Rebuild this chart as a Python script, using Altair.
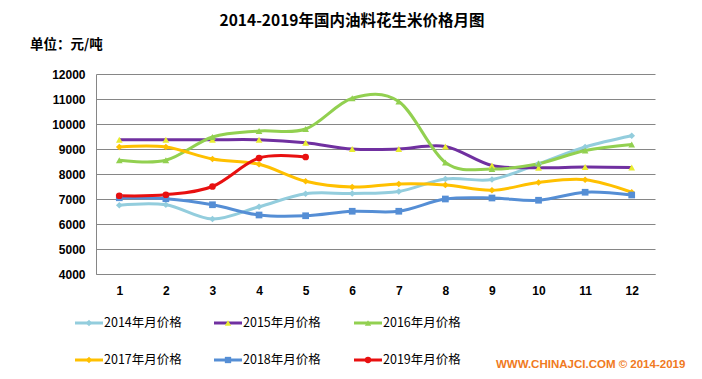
import altair as alt
import pandas as pd

months = list(range(1, 13))
series_names = ["2014年月价格", "2015年月价格", "2016年月价格", "2017年月价格", "2018年月价格", "2019年月价格"]
p2014 = [6750, 6770, 6200, 6690, 7210, 7220, 7300, 7800, 7780, 8410, 9080, 9530]
p2015 = [9370, 9370, 9370, 9370, 9250, 9000, 9000, 9100, 8340, 8250, 8280, 8260]
p2016 = [8550, 8550, 9480, 9720, 9800, 11030, 10900, 8460, 8200, 8410, 8940, 9180]
p2017 = [9080, 9080, 8600, 8390, 7710, 7480, 7600, 7560, 7350, 7660, 7770, 7270]
p2018 = [7050, 7010, 6770, 6360, 6330, 6510, 6510, 7000, 7040, 6950, 7270, 7160]
p2019 = [7130, 7170, 7500, 8640, 8680]
y_ticks = [4000, 5000, 6000, 7000, 8000, 9000, 10000, 11000, 12000]

line_colors = ["#93CDDD", "#7030A0", "#92D050", "#FFC000", "#558ED5", "#E81010"]
marker_fills = ["#93CDDD", "#E8EC30", "#92D050", "#FFC000", "#558ED5", "#E81010"]
marker_shapes = ["diamond", "triangle-up", "triangle-up", "diamond", "square", "circle"]

all_vals = [p2014, p2015, p2016, p2017, p2018, p2019]
rows = []
for name, vals in zip(series_names, all_vals):
    for m, v in zip(months, vals):
        rows.append({"series": name, "month": m, "price": v})
df = pd.DataFrame(rows)

W, H = 559, 200
FONT_CJK = "Noto Sans CJK SC"

stroke_scale = alt.Scale(domain=series_names, range=line_colors)
fill_scale = alt.Scale(domain=series_names, range=marker_fills)
shape_scale = alt.Scale(domain=series_names, range=marker_shapes)

x_axis = alt.Axis(title=None, labelAngle=0, labelFont="Liberation Sans",
                  labelFontWeight="bold", labelFontSize=12, labelColor="#000",
                  ticks=False, labelPadding=11, domainColor="#868686", grid=False,
                  labelOverlap=False)
y_axis = alt.Axis(title=None, values=y_ticks, tickCount=9, format="d",
                  labelFont="Liberation Sans", labelFontWeight="bold", labelFontSize=12,
                  labelColor="#000", ticks=False, labelPadding=11, labelOverlap=False,
                  labelFlush=False, domainColor="#868686", gridColor="#868686", gridWidth=1)
x_scale = alt.Scale(type="point", padding=0.5)
y_scale = alt.Scale(domain=[4000, 12000], nice=False, zero=False)

def xe():
    return alt.X("month:O", scale=x_scale, axis=x_axis)

def ye():
    return alt.Y("price:Q", scale=y_scale, axis=y_axis)

lines = alt.Chart(df).mark_line(interpolate="cardinal", strokeWidth=3).encode(
    x=xe(), y=ye(),
    stroke=alt.Stroke("series:N", scale=stroke_scale, legend=None),
    detail="series:N",
)
points = alt.Chart(df).mark_point(filled=True, size=45, opacity=1).encode(
    x=xe(), y=ye(),
    fill=alt.Fill("series:N", scale=fill_scale, legend=None),
    shape=alt.Shape("series:N", scale=shape_scale, legend=None),
)

# custom legend (layout computed in code)
col_starts = [-21, 118, 258]
row_ys = [249, 286]
leg_rows = []
for i, name in enumerate(series_names):
    x0 = col_starts[i % 3]
    yy = row_ys[i // 3]
    leg_rows.append({"series": name, "x0": x0, "x1": x0 + 28, "xm": x0 + 14, "xt": x0 + 29, "y": yy})
leg = pd.DataFrame(leg_rows)

leg_lines = alt.Chart(leg).mark_rule(strokeWidth=3).encode(
    x=alt.X("x0:Q", scale=None), x2="x1:Q", y=alt.Y("y:Q", scale=None),
    stroke=alt.Stroke("series:N", scale=stroke_scale, legend=None),
)
leg_pts = alt.Chart(leg).mark_point(filled=True, size=40, opacity=1).encode(
    x=alt.X("xm:Q", scale=None), y=alt.Y("y:Q", scale=None),
    fill=alt.Fill("series:N", scale=fill_scale, legend=None),
    shape=alt.Shape("series:N", scale=shape_scale, legend=None),
)
leg_text = alt.Chart(leg).mark_text(align="left", baseline="middle", font=FONT_CJK,
                                    fontSize=12.5, color="#000").encode(
    x=alt.X("xt:Q", scale=None), y=alt.Y("y:Q", scale=None), text="series:N",
)

title = alt.Chart(pd.DataFrame({"t": ["2014-2019年国内油料花生米价格月图"]})).mark_text(
    align="center", baseline="middle", font=FONT_CJK, fontSize=15.5, fontWeight="bold", color="#000"
).encode(x=alt.value(256), y=alt.value(-53), text="t:N")

unit = alt.Chart(pd.DataFrame({"t": ["单位：元/吨"]})).mark_text(
    align="left", baseline="middle", font=FONT_CJK, fontSize=13.5, fontWeight="bold", color="#000"
).encode(x=alt.value(-66), y=alt.value(-29), text="t:N")

site = alt.Chart(pd.DataFrame({"t": ["WWW.CHINAJCI.COM © 2014-2019"]})).mark_text(
    align="left", baseline="middle", font="Liberation Sans", fontSize=11.5, fontWeight="bold",
    color="#F07A22"
).encode(x=alt.value(400), y=alt.value(291), text="t:N")

chart = alt.layer(lines, points, leg_lines, leg_pts, leg_text, title, unit, site).properties(
    width=W, height=H,
    padding={"left": 88, "top": 66, "right": 39, "bottom": 97},
    autosize=alt.AutoSizeParams(type="none"),
    background="white",
).configure_view(stroke=None)

chart.save("out.html", embed_options={"renderer": "svg", "actions": False})
